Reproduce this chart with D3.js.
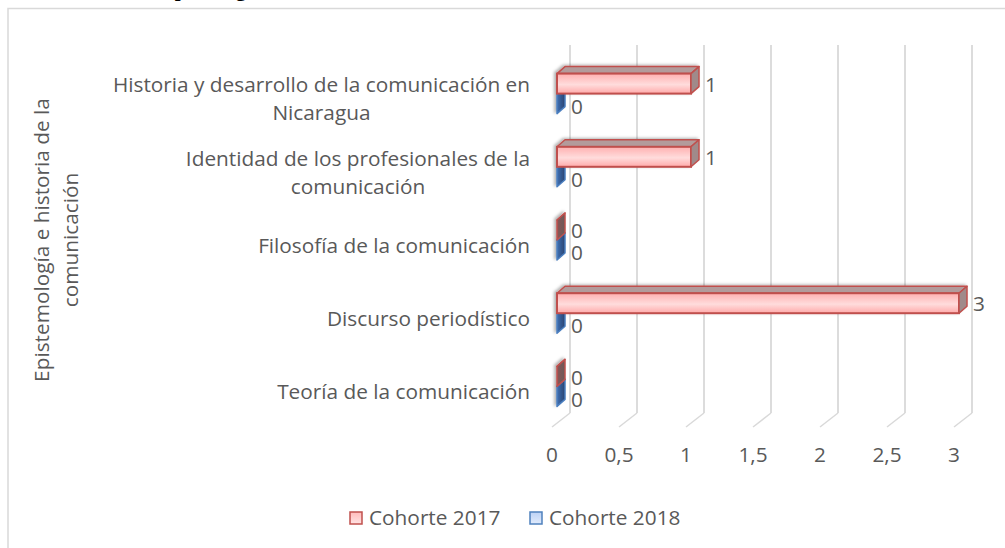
<!DOCTYPE html>
<html>
<head>
<meta charset="utf-8">
<script src="https://cdn.jsdelivr.net/npm/d3@7"></script>
<style>
  body { margin: 0; background: #fff; }
  svg text { font-family: "Open Sans", Lato, sans-serif; fill: #595959; }
</style>
</head>
<body>
<svg id="chart" width="1005" height="548"></svg>
<script>
// data
const categories = [
  "Historia y desarrollo de la comunicación en Nicaragua",
  "Identidad de los profesionales de la comunicación",
  "Filosofía de la comunicación",
  "Discurso periodístico",
  "Teoría de la comunicación"
];
const categoryLines = [
  ["Historia y desarrollo de la comunicación en", "Nicaragua"],
  ["Identidad de los profesionales de la", "comunicación"],
  ["Filosofía de la comunicación"],
  ["Discurso periodístico"],
  ["Teoría de la comunicación"]
];
const series = ["Cohorte 2017", "Cohorte 2018"];
const cohorte2017 = [1, 1, 0, 3, 0];
const cohorte2018 = [0, 0, 0, 0, 0];
const xTicks = [0, 0.5, 1, 1.5, 2, 2.5, 3];
const axisTitle = ["Epistemología e historia de la", "comunicación"];

const svg = d3.select("#chart");
const fontSize = 20.8;

// 3d offsets
const depthX = 8, depthY = -7;     // bar depth
const backX = 13, frontX = -5;     // back wall / floor front relative to bar front

const x = d3.scaleLinear().domain([0, 3]).range([557, 959]);
const y = d3.scaleBand().domain(categories).range([57, 423]);
const ySub = d3.scaleBand().domain(series).range([-20, 20]);

const gridTop = 45, gridBottom = 413, floorFront = 427;

// frame
svg.append("rect")
  .attr("x", 8).attr("y", 8.5)
  .attr("width", 1010).attr("height", 560)
  .attr("fill", "none")
  .attr("stroke", "#d9d9d9")
  .attr("stroke-width", 1.5);

// cut-off title
svg.append("text")
  .attr("x", 112).attr("y", -4)
  .style("font-family", "'Liberation Serif', serif")
  .style("font-weight", "bold")
  .style("font-size", "21px")
  .style("fill", "#000")
  .text("Temas por asignatura");

// defs
const defs = svg.append("defs");
const redFront = defs.append("linearGradient").attr("id", "redFront")
  .attr("x1", 0).attr("y1", 0).attr("x2", 0).attr("y2", 1);
redFront.append("stop").attr("offset", "0%").attr("stop-color", "#ffb0b0");
redFront.append("stop").attr("offset", "55%").attr("stop-color", "#ffdcdc");
redFront.append("stop").attr("offset", "100%").attr("stop-color", "#ffaaaa");

const blueSide = defs.append("linearGradient").attr("id", "blueSide")
  .attr("x1", 0).attr("y1", 0).attr("x2", 1).attr("y2", 0);
blueSide.append("stop").attr("offset", "0%").attr("stop-color", "#3f6fb3");
blueSide.append("stop").attr("offset", "100%").attr("stop-color", "#2a4470");

const redSide = defs.append("linearGradient").attr("id", "redSide")
  .attr("x1", 0).attr("y1", 0).attr("x2", 1).attr("y2", 0);
redSide.append("stop").attr("offset", "0%").attr("stop-color", "#8a5555");
redSide.append("stop").attr("offset", "100%").attr("stop-color", "#6b5a5a");

const legRed = defs.append("linearGradient").attr("id", "legRed")
  .attr("x1", 0).attr("y1", 0).attr("x2", 0).attr("y2", 1);
legRed.append("stop").attr("offset", "0%").attr("stop-color", "#ffbcbc");
legRed.append("stop").attr("offset", "100%").attr("stop-color", "#ffe3e3");
const legBlue = defs.append("linearGradient").attr("id", "legBlue")
  .attr("x1", 0).attr("y1", 0).attr("x2", 0).attr("y2", 1);
legBlue.append("stop").attr("offset", "0%").attr("stop-color", "#bcd2f5");
legBlue.append("stop").attr("offset", "100%").attr("stop-color", "#e1ebfc");

const shadow = defs.append("filter").attr("id", "shadow")
  .attr("x", "-20%").attr("y", "-50%").attr("width", "140%").attr("height", "200%");
shadow.append("feDropShadow")
  .attr("dx", -2).attr("dy", -1)
  .attr("stdDeviation", 1.8)
  .attr("flood-color", "#000")
  .attr("flood-opacity", 0.3);

// grid: back wall verticals and floor diagonals
const grid = svg.append("g");
grid.selectAll(".vline")
  .data(xTicks)
  .join("line")
    .attr("x1", d => x(d) + backX).attr("x2", d => x(d) + backX)
    .attr("y1", gridTop).attr("y2", gridBottom)
    .attr("stroke", "#d9d9d9").attr("stroke-width", 1.8);
grid.selectAll(".dline")
  .data(xTicks)
  .join("line")
    .attr("x1", d => x(d) + backX).attr("y1", gridBottom)
    .attr("x2", d => x(d) + frontX).attr("y2", floorFront)
    .attr("stroke", "#d9d9d9").attr("stroke-width", 1.5);

// tick labels
svg.append("g").selectAll("text")
  .data(xTicks)
  .join("text")
    .attr("x", d => x(d) + frontX)
    .attr("y", 455)
    .attr("dy", "0.35em")
    .attr("text-anchor", "middle")
    .style("font-size", `${fontSize}px`)
    .text(d => String(d).replace(".", ","));

// bars
const rows = categories.map((c, i) => ({
  cat: c,
  vals: [
    { s: series[1], v: cohorte2018[i] },
    { s: series[0], v: cohorte2017[i] }
  ]
}));

const barLayer = svg.append("g").attr("filter", "url(#shadow)");

const drawBar = (g, cy, d) => {
  const isRed = d.s === series[0];
  const stroke = isRed ? "#c0504d" : "#4a7ebf";
  const x0 = x(0), x1 = x(d.v);
  const yT = cy + ySub(d.s), yB = yT + ySub.bandwidth();
  // top face
  g.append("path")
    .attr("d", `M${x0},${yT}L${x0 + depthX},${yT + depthY}L${x1 + depthX},${yT + depthY}L${x1},${yT}Z`)
    .attr("fill", isRed ? "#b39b9b" : "#8ca3c7")
    .attr("stroke", stroke).attr("stroke-width", 1.5).attr("stroke-linejoin", "round");
  // front face
  if (d.v > 0) {
    g.append("rect")
      .attr("x", x0).attr("y", yT)
      .attr("width", x1 - x0).attr("height", yB - yT)
      .attr("fill", isRed ? "url(#redFront)" : "#c9daf8")
      .attr("stroke", stroke).attr("stroke-width", 2);
  }
  // end face
  g.append("path")
    .attr("d", `M${x1},${yT}L${x1 + depthX},${yT + depthY}L${x1 + depthX},${yB + depthY}L${x1},${yB}Z`)
    .attr("fill", d.v > 0 ? "#a08a8a" : (isRed ? "url(#redSide)" : "url(#blueSide)"))
    .attr("stroke", stroke).attr("stroke-width", 1.5).attr("stroke-linejoin", "round");
};

rows.forEach(r => {
  const cy = y(r.cat) + y.bandwidth() / 2;
  const g = barLayer.append("g");
  r.vals.forEach(d => drawBar(g, cy, d));
});

// value labels (red a bit above its face, blue a bit below)
const labelShift = { "Cohorte 2017": -9, "Cohorte 2018": 13 };
rows.forEach(r => {
  const cy = y(r.cat) + y.bandwidth() / 2;
  svg.append("g").selectAll("text")
    .data(r.vals)
    .join("text")
      .attr("x", d => x(d.v) + 14)
      .attr("y", d => cy + labelShift[d.s])
      .attr("dy", "0.35em")
      .style("font-size", `${fontSize}px`)
      .text(d => d.v);
});

// category labels: block right aligned, lines centered
const labelRight = 530, lineH = 28;
categories.forEach((c, i) => {
  const cy = y(c) + y.bandwidth() / 2 + 5.5;
  const lines = categoryLines[i];
  const t = svg.append("text")
    .attr("text-anchor", "middle")
    .style("font-size", `${fontSize}px`);
  const spans = lines.map((l, j) => t.append("tspan")
    .attr("y", cy + (j - (lines.length - 1) / 2) * lineH)
    .attr("dy", "0.35em")
    .text(l));
  const w = d3.max(spans, s => s.node().getComputedTextLength());
  spans.forEach(s => s.attr("x", labelRight - w / 2));
});

// axis title
const titleY = (y.range()[0] + y.range()[1]) / 2;
axisTitle.forEach((l, j) => {
  svg.append("text")
    .attr("transform", `translate(${49 + j * 29},${titleY}) rotate(-90)`)
    .attr("text-anchor", "middle")
    .style("font-size", `${fontSize}px`)
    .text(l);
});

// legend
const legend = svg.append("g").attr("transform", "translate(0,518)");
const legendItems = [
  { s: series[0], x: 350, fill: "url(#legRed)", stroke: "#c0504d" },
  { s: series[1], x: 530, fill: "url(#legBlue)", stroke: "#4f81bd" }
];
legend.selectAll("rect")
  .data(legendItems)
  .join("rect")
    .attr("x", d => d.x).attr("y", -6)
    .attr("width", 12).attr("height", 12)
    .attr("fill", d => d.fill)
    .attr("stroke", d => d.stroke).attr("stroke-width", 1.5);
legend.selectAll("text")
  .data(legendItems)
  .join("text")
    .attr("x", d => d.x + 19).attr("y", 0)
    .attr("dy", "0.35em")
    .style("font-size", `${fontSize}px`)
    .text(d => d.s);
</script>
</body>
</html>
